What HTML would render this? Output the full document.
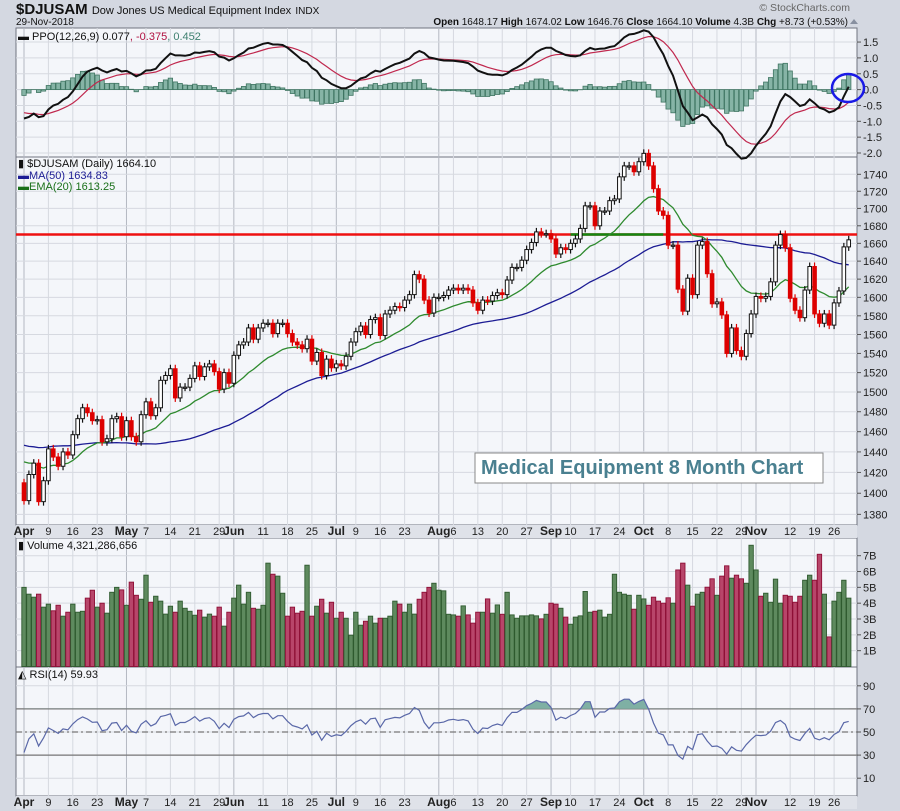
<!DOCTYPE html>
<html><head><meta charset="utf-8"><style>
body{margin:0;background:#d4d8e1;}
svg{display:block;font-family:"Liberation Sans",sans-serif;}
</style></head><body>
<svg id="c" width="900" height="811" viewBox="0 0 900 811">
<rect x="0" y="0" width="900" height="811" fill="#d4d8e1"/>
<text x="16" y="14" font-size="15" font-weight="bold" fill="#111">$DJUSAM <tspan font-size="11" font-weight="normal">Dow Jones US Medical Equipment Index</tspan> <tspan font-size="10" font-weight="normal">INDX</tspan></text>
<text x="16" y="25" font-size="10" fill="#111">29-Nov-2018</text>
<text x="850" y="11" font-size="10.5" fill="#666" text-anchor="end">© StockCharts.com</text>
<text x="848" y="25" font-size="10" fill="#111" text-anchor="end"><tspan font-weight="bold">Open</tspan> 1648.17  <tspan font-weight="bold">High</tspan> 1674.02  <tspan font-weight="bold">Low</tspan> 1646.76  <tspan font-weight="bold">Close</tspan> 1664.10  <tspan font-weight="bold">Volume</tspan> 4.3B  <tspan font-weight="bold">Chg</tspan> +8.73 (+0.53%)</text>
<path d="M850 24 L854 19 L858 24Z" fill="#8890a0"/>
<g id="g"></g>
</svg>
<script>
const prior=[1440,1448,1455,1460,1466,1470,1475,1478,1482,1480,1476,1470,1452,1430,1405,1418,1400,1415,1428,1436,1442,1440,1450,1455,1448,1452,1460,1458,1463,1465,1470,1468,1475,1478,1480,1484,1482,1486,1488,1484,1478,1470,1464,1470,1458,1450,1440,1445,1430,1420,1428,1436,1425,1415,1420,1426,1418,1412,1420,1425];
const closes=[1393,1418,1429,1392,1412,1443,1435,1426,1440,1437,1457,1473,1484,1479,1471,1472,1450,1453,1473,1475,1455,1471,1455,1450,1477,1490,1476,1484,1512,1517,1524,1494,1505,1505,1514,1527,1516,1526,1529,1521,1503,1520,1509,1538,1549,1552,1567,1555,1567,1572,1572,1561,1572,1572,1561,1552,1549,1545,1555,1532,1541,1517,1534,
1525,1529,1527,1537,1552,1563,1569,1560,1576,1578,1559,1582,1586,1590,1589,1597,1603,1625,1620,1597,1583,1600,1600,1602,1608,1610,1608,1610,1608,1594,1586,1597,1596,1602,1605,1603,1619,1633,1633,1641,1653,1661,1673,1671,1671,1665,1648,1655,1653,1660,1665,1677,1703,1703,1680,1697,1697,1709,1711,1737,1750,1750,1743,1755,
1765,1750,1723,1697,1692,1658,1658,1609,1585,1621,1603,1658,1662,1626,1593,1595,1581,1540,1567,1543,1537,1561,1582,1601,1599,1601,1617,1658,1670,1655,1599,1586,1578,1608,1634,1582,1572,1582,1570,1594,1607,1656,1664];
const volumes=[5.0,4.57,4.38,4.57,3.75,3.94,3.52,3.87,3.18,3.43,3.94,3.43,3.49,4.32,4.82,3.75,4.0,3.37,4.69,5.0,4.84,3.87,5.33,4.5,4.25,5.77,4.06,4.44,4.13,3.31,3.81,3.43,4.13,3.68,3.49,3.24,3.56,3.12,3.31,3.18,3.75,2.55,3.43,4.32,5.14,3.94,4.69,3.68,3.62,3.87,6.53,5.83,5.71,4.63,3.18,3.75,3.37,3.49,6.4,3.18,3.81,4.25,3.37,4.06,3.05,3.43,3.05,1.98,3.43,2.61,2.86,3.18,2.74,3.05,3.05,3.18,4.13,3.94,3.43,3.94,3.31,4.25,4.69,5.0,5.26,4.82,
4.78,3.3,3.26,3.18,3.83,3.26,2.74,3.43,3.43,4.27,3.37,3.89,3.3,4.69,3.26,3.05,3.2,3.2,3.26,3.2,3.01,3.3,4.0,3.94,3.68,3.12,2.67,3.12,3.2,4.74,3.43,3.49,3.56,3.12,3.3,5.83,4.69,4.57,4.5,3.62,4.5,4.27,3.87,4.38,4.13,4.0,4.34,4.0,6.1,6.53,5.14,3.81,4.57,4.69,5.01,5.54,4.5,5.71,6.36,5.58,5.77,5.54,5.26,7.66,6.1,4.44,4.63,4.06,5.52,4.0,4.5,4.44,4.06,4.44,5.45,5.77,5.45,7.09,4.57,1.87,4.13,4.69,5.45,4.32];
const ppoTicks=[1.5,1.0,0.5,0.0,-0.5,-1.0,-1.5,-2.0];
const priceTicks=[1380,1400,1420,1440,1460,1480,1500,1520,1540,1560,1580,1600,1620,1640,1660,1680,1700,1720,1740];
const volTicks=[1,2,3,4,5,6,7];
const rsiTicks=[10,30,50,70,90];
const resistance=1670;
const holidays=["2018-05-28","2018-07-04","2018-09-03","2018-11-22"];

const NS="http://www.w3.org/2000/svg",G=document.getElementById('g');
function mk(t,a,p){const e=document.createElementNS(NS,t);for(const k in a)e.setAttribute(k,a[k]);(p||G).appendChild(e);return e;}
const L=16,R=857,X0=24,DX=4.88;
const xs=i=>X0+i*DX;
const yPPO=v=>89.6-v*31.7;
const yP=p=>174.3+1467*Math.log(1740/p);
const yV=v=>666.5-v*15.83;
const yR=v=>732-(v-50)*1.155;
const panels=[[28,157],[157,525],[538,667],[667,796]];
const dates=[];let d=new Date(Date.UTC(2018,3,2));
while(dates.length<closes.length){const w=d.getUTCDay();const s=d.toISOString().slice(0,10);if(w>0&&w<6&&!holidays.includes(s))dates.push(new Date(d));d=new Date(d.getTime()+864e5);}
const MN=["Jan","Feb","Mar","Apr","May","Jun","Jul","Aug","Sep","Oct","Nov","Dec"];
const monthStarts=[];for(let i=0;i<dates.length;i++){if(i===0||dates[i].getUTCMonth()!==dates[i-1].getUTCMonth())monthStarts.push(i);}
const labels=[];
for(let i=0;i<dates.length;i++){
 if(monthStarts.includes(i)){labels.push({i,t:MN[dates[i].getUTCMonth()],b:true});continue;}
 const newW=dates[i].getUTCDay()<=dates[i-1].getUTCDay();
 if(!newW)continue;
 if(monthStarts.some(m=>Math.abs(m-i)<=2))continue;
 labels.push({i,t:String(dates[i].getUTCDate()),b:false});}
panels.forEach((p,k)=>{const r=mk('rect',{x:L,y:p[0],width:R-L,height:p[1]-p[0],fill:'#f4f6fa',stroke:'#707480','stroke-width':1});
});
labels.forEach(l=>{panels.forEach(p=>{const e=mk('line',{x1:xs(l.i),x2:xs(l.i),y1:p[0],y2:p[1],stroke:l.b?'#b4b8c2':'#d6d9e0','stroke-width':1});
});});
function hgrid(ticks,f,fmt,cls){ticks.forEach(t=>{const y=f(t);const e=mk('line',{x1:L,x2:R,y1:y,y2:y,stroke:'#d6d9e0'});

const tk=mk('line',{x1:R,x2:R+4,y1:y,y2:y,stroke:'#555'});
const tx=mk('text',{x:R+6,y:y+4,'font-size':11,fill:'#222'});tx.textContent=fmt(t);});}
hgrid(ppoTicks,yPPO,v=>v.toFixed(1),'ppo-axis');
hgrid(priceTicks,yP,v=>v,'price-axis');
hgrid(volTicks,yV,v=>v+'B','volume-axis');
hgrid(rsiTicks,yR,v=>v,'rsi-axis');
[[525,535],[796,806]].forEach(([y0,yb])=>{const e=mk('rect',{x:L,y:y0,width:R-L,height:13,fill:'#dfe2e9'});
labels.forEach(l=>{const t=mk('text',{x:xs(l.i),y:yb,'font-size':l.b?12:11,'font-weight':l.b?'bold':'normal','text-anchor':'middle',fill:'#222'});t.textContent=l.t;
});});
const all=prior.concat(closes),P=prior.length;
function ema(a,n){const k=2/(n+1);const o=[a[0]];for(let i=1;i<a.length;i++)o.push(a[i]*k+o[i-1]*(1-k));return o;}
const e12=ema(all,12),e26=ema(all,26),e20=ema(all,20);
const ppo=all.map((_,i)=>(e12[i]-e26[i])/e26[i]*100);const sig=ema(ppo,9);
const ma50=all.map((_,i)=>{const s=all.slice(Math.max(0,i-49),i+1);return s.reduce((a,b)=>a+b,0)/s.length;});
let ag=0,al=0;const rsi=[];for(let i=1;i<all.length;i++){const ch=all[i]-all[i-1];const g=Math.max(ch,0),l=Math.max(-ch,0);
 if(i<=14){ag+=g/14;al+=l/14;}else{ag=(ag*13+g)/14;al=(al*13+l)/14;}rsi.push(al===0?100:100-100/(1+ag/al));}
const rsiAt=i=>rsi[P+i-1];
function line(vals,f,col,w,name){let d='';closes.forEach((_,i)=>{d+=(i?'L':'M')+xs(i).toFixed(1)+' '+f(vals(i)).toFixed(1);});
const e=mk('path',{d,fill:'none',stroke:col,'stroke-width':w});return d;}
closes.forEach((_,i)=>{const h=ppo[P+i]-sig[P+i];const y0=yPPO(0),y1=yPPO(h);
const e=mk('rect',{x:xs(i)-2.2,y:Math.min(y0,y1),width:4.4,height:Math.abs(y1-y0),fill:'#86b4a6',stroke:'#3f7562','stroke-width':0.8});
});
line(i=>sig[P+i],yPPO,'#c0284e',1.2,'ppo-signal-line');
line(i=>ppo[P+i],yPPO,'#111',2,'ppo-line');
const el=mk('ellipse',{cx:848,cy:88,rx:16,ry:14,fill:'none',stroke:'#1a1ae6','stroke-width':2.5});
const rl=mk('line',{x1:L,x2:R,y1:yP(resistance),y2:yP(resistance),stroke:'#ee1111','stroke-width':2.5});
const gl=mk('line',{x1:xs(112),x2:xs(131),y1:yP(resistance),y2:yP(resistance),stroke:'#118811','stroke-width':2.5});
line(i=>ma50[P+i],yP,'#1c1c94',1.3,'ma50-line');
line(i=>e20[P+i],yP,'#2e8a2e',1.3,'ema20-line');
closes.forEach((c,i)=>{const o=i?closes[i-1]:1410;const up=c>=o;const col=up?'#111':'#dd0000';
const yt=yP(Math.max(o,c)),yb=yP(Math.min(o,c));
const w=mk('line',{x1:xs(i),x2:xs(i),y1:yt-4,y2:yb+4,stroke:col,'stroke-width':1.2});
const b=mk('rect',{x:xs(i)-1.8,y:yt,width:3.6,height:Math.max(1.2,yb-yt),fill:up?'#fff':'#dd0000',stroke:col,'stroke-width':1});
});
volumes.forEach((v,i)=>{const up=i===0||closes[i]>=closes[i-1];
const b=mk('rect',{x:xs(i)-2.2,y:yV(v),width:4.4,height:yV(0)-yV(v),fill:up?'#5e8a5e':'#b8456a',stroke:up?'#2f5a2f':'#8e0f36','stroke-width':0.9});
});
[[70,'#777','none'],[30,'#777','none'],[50,'#777','6 3 2 3']].forEach(([v,c,da])=>{const e=mk('line',{x1:L,x2:R,y1:yR(v),y2:yR(v),stroke:c,'stroke-width':1.2,'stroke-dasharray':da});
});
const cp=mk('clipPath',{id:'ov'});mk('rect',{x:L,y:667,width:R-L,height:yR(70)-667},cp);
let fd='M'+xs(0)+' '+yR(70);closes.forEach((_,i)=>{fd+='L'+xs(i).toFixed(1)+' '+yR(rsiAt(i)).toFixed(1);});fd+='L'+xs(closes.length-1)+' '+yR(70)+'Z';
const fa=mk('path',{d:fd,fill:'#7fb0a4','clip-path':'url(#ov)'});
line(i=>rsiAt(i),yR,'#5a68a8',1.2,'rsi-line');
const tb=mk('rect',{x:475,y:453,width:348,height:30,fill:'#fff',stroke:'#888','stroke-width':1});
const tt=mk('text',{x:481,y:474,'font-size':20,'font-weight':'bold',fill:'#4a8090'});tt.textContent='Medical Equipment 8 Month Chart';
function leg(x,y,parts,name){const t=mk('text',{x,y,'font-size':11});parts.forEach(([s,c])=>{const sp=mk('tspan',{fill:c},t);sp.textContent=s;});}
leg(18,40,[['▬ PPO(12,26,9) 0.077','#111'],[', -0.375','#b01040'],[', 0.452','#3f8070']],'ppo-legend');
leg(18,167,[['▮ $DJUSAM (Daily) 1664.10','#111']],'price-legend');
leg(18,179,[['▬MA(50) 1634.83','#1c1c94']],'ma50-legend');
leg(18,190,[['▬EMA(20) 1613.25','#1a701a']],'ema20-legend');
leg(18,549,[['▮ Volume 4,321,286,656','#111']],'volume-legend');
leg(18,678,[['◭ RSI(14) 59.93','#111']],'rsi-legend');
</script>
</body></html>
